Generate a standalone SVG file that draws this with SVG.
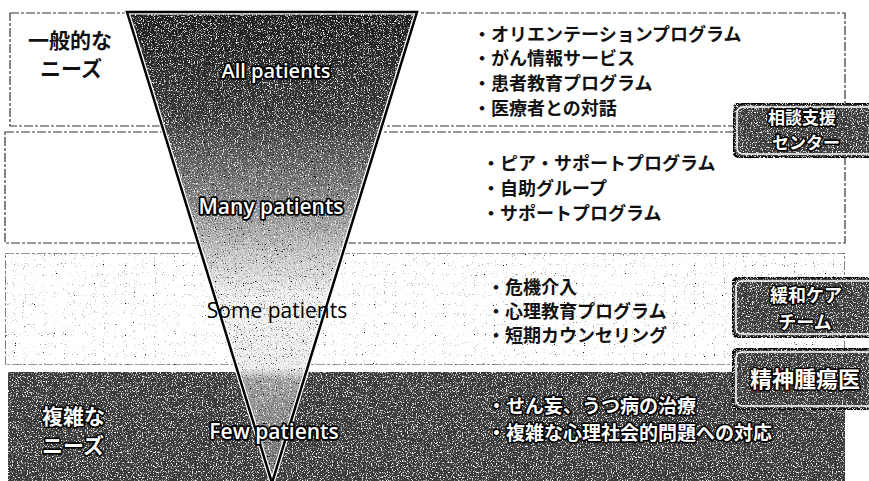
<svg xmlns="http://www.w3.org/2000/svg" width="869" height="481" viewBox="0 0 869 481">
<defs>
<style>
.jp{font-family:"Noto Sans CJK JP","Noto Sans",sans-serif;font-weight:bold}
.lat{font-family:"Open Sans","Noto Sans",sans-serif}
.list{font-size:18px;fill:#111}
.outl{fill:#fff;stroke:#000;stroke-width:3.2;paint-order:stroke;stroke-linejoin:round}
.lb{font-weight:600;stroke-width:3.6}
.band{fill:#fff;stroke:#333;stroke-width:1.2;stroke-dasharray:9 2 3 2}
.boxo{fill:#3d3d3d;stroke:#000;stroke-width:3}
.boxi{fill:none;stroke:#fff;stroke-width:1.5}
</style>
<linearGradient id="fg" gradientUnits="userSpaceOnUse" x1="0" y1="12" x2="0" y2="481">
<stop offset="0" stop-color="#222"/>
<stop offset="0.22" stop-color="#3c3c3c"/>
<stop offset="0.40" stop-color="#858585"/>
<stop offset="0.52" stop-color="#c8c8c8"/>
<stop offset="0.61" stop-color="#f4f4f4"/>
<stop offset="0.76" stop-color="#eeeeee"/>
<stop offset="0.785" stop-color="#a0a0a0"/>
<stop offset="1" stop-color="#6a6a6a"/>
</linearGradient>
<filter id="grainMix" x="0" y="0" width="100%" height="100%">
<feTurbulence type="fractalNoise" baseFrequency="0.85" numOctaves="2" seed="4" result="t"/>
<feColorMatrix in="t" type="matrix" values="0 0 0 0 1 0 0 0 0 1 0 0 0 0 1 4.5 0 0 0 -2.55" result="w"/>
<feColorMatrix in="t" type="matrix" values="0 0 0 0 0 0 0 0 0 0 0 0 0 0 0 0 4.5 0 0 -2.55" result="b"/>
<feComposite in="w" in2="SourceGraphic" operator="in" result="w2"/>
<feComposite in="b" in2="SourceGraphic" operator="in" result="b2"/>
<feMerge><feMergeNode in="SourceGraphic"/><feMergeNode in="b2"/><feMergeNode in="w2"/></feMerge>
</filter>
<filter id="grainDark" x="0" y="0" width="100%" height="100%">
<feTurbulence type="fractalNoise" baseFrequency="0.8" numOctaves="2" seed="9" result="t"/>
<feColorMatrix in="t" type="matrix" values="0 0 0 0 1 0 0 0 0 1 0 0 0 0 1 5 0 0 0 -2.8" result="w"/>
<feComposite in="w" in2="SourceGraphic" operator="in" result="w2"/>
<feMerge><feMergeNode in="SourceGraphic"/><feMergeNode in="w2"/></feMerge>
</filter>
<filter id="speck" x="0" y="0" width="100%" height="100%">
<feTurbulence type="fractalNoise" baseFrequency="0.9" numOctaves="1" seed="6" result="t"/>
<feColorMatrix in="t" type="matrix" values="0 0 0 0 0 0 0 0 0 0 0 0 0 0 0 0 7 0 0 -4.6" result="b"/>
<feComposite in="b" in2="SourceGraphic" operator="in" result="b2"/>
<feMerge><feMergeNode in="SourceGraphic"/><feMergeNode in="b2"/></feMerge>
</filter>
</defs>
<rect width="869" height="481" fill="#fff"/>

<g id="band1"><rect class="band" x="10" y="13" width="835" height="113"/></g>
<g id="band2"><rect class="band" x="5" y="132" width="840" height="111"/></g>
<g id="band3"><rect class="band" x="5" y="253" width="840" height="112" filter="url(#speck)"/></g>
<g id="band4"><rect x="8" y="372" width="837" height="115" fill="#3a3a3a" filter="url(#grainDark)"/></g>

<g id="funnel">
<polygon points="127,12 417,12 272,483" fill="url(#fg)" filter="url(#grainMix)"/>
<polygon points="127,12 417,12 272,483" fill="none" stroke="#fff" stroke-width="5"/>
<polygon points="127,12 417,12 272,483" fill="none" stroke="#000" stroke-width="2.5"/>
</g>

<g id="connectors"></g>

<g id="level-labels">
<text class="jp" x="28" y="48" font-size="21" font-weight="500" fill="#111">一般的な</text>
<text class="jp" x="40" y="76" font-size="21" font-weight="500" fill="#111">ニーズ</text>
<text class="jp outl" x="42" y="424" font-size="21">複雑な</text>
<text class="jp outl" x="42" y="453" font-size="21">ニーズ</text>
</g>

<g id="funnel-labels" text-anchor="middle">
<text class="lat outl lb" x="276" y="78" font-size="20">All patients</text>
<text class="lat outl lb" x="271" y="214" font-size="21">Many patients</text>
<text class="lat" x="277" y="318" font-size="21" fill="#000">Some patients</text>
<text class="lat outl lb" x="274" y="439" font-size="21">Few patients</text>
</g>

<g id="list1" class="jp list">
<text x="473" y="41">・オリエンテーションプログラム</text>
<text x="473" y="65">・がん情報サービス</text>
<text x="473" y="90">・患者教育プログラム</text>
<text x="473" y="115">・医療者との対話</text>
</g>
<g id="list2" class="jp list">
<text x="482" y="170">・ピア・サポートプログラム</text>
<text x="482" y="195">・自助グループ</text>
<text x="482" y="220">・サポートプログラム</text>
</g>
<g id="list3" class="jp list">
<text x="487" y="294">・危機介入</text>
<text x="487" y="318">・心理教育プログラム</text>
<text x="487" y="342">・短期カウンセリング</text>
</g>
<g id="list4" class="jp outl" font-size="19">
<text x="487" y="413">・せん妄、うつ病の治療</text>
<text x="487" y="440">・複雑な心理社会的問題への対応</text>
</g>

<g id="box-soudan">
<rect class="boxo" x="733" y="103" width="150" height="55" rx="9" filter="url(#grainDark)"/>
<rect class="boxi" x="737" y="107" width="150" height="47" rx="6"/>
<text class="jp outl" x="802" y="124" font-size="17" text-anchor="middle">相談支援</text>
<text class="jp outl" x="806" y="149" font-size="17" text-anchor="middle">センター</text>
</g>
<g id="box-kanwa">
<rect class="boxo" x="732" y="277" width="150" height="61" rx="9" filter="url(#grainDark)"/>
<rect class="boxi" x="736" y="281" width="150" height="53" rx="6"/>
<text class="jp outl" x="806" y="302" font-size="18" text-anchor="middle">緩和ケア</text>
<text class="jp outl" x="805" y="329" font-size="18" text-anchor="middle">チーム</text>
</g>
<g id="box-seishin">
<rect class="boxo" x="732" y="348" width="150" height="62" rx="9" filter="url(#grainDark)"/>
<rect class="boxi" x="736" y="352" width="150" height="54" rx="6"/>
<text class="jp outl" x="805" y="387" font-size="22" text-anchor="middle">精神腫瘍医</text>
</g>
</svg>
